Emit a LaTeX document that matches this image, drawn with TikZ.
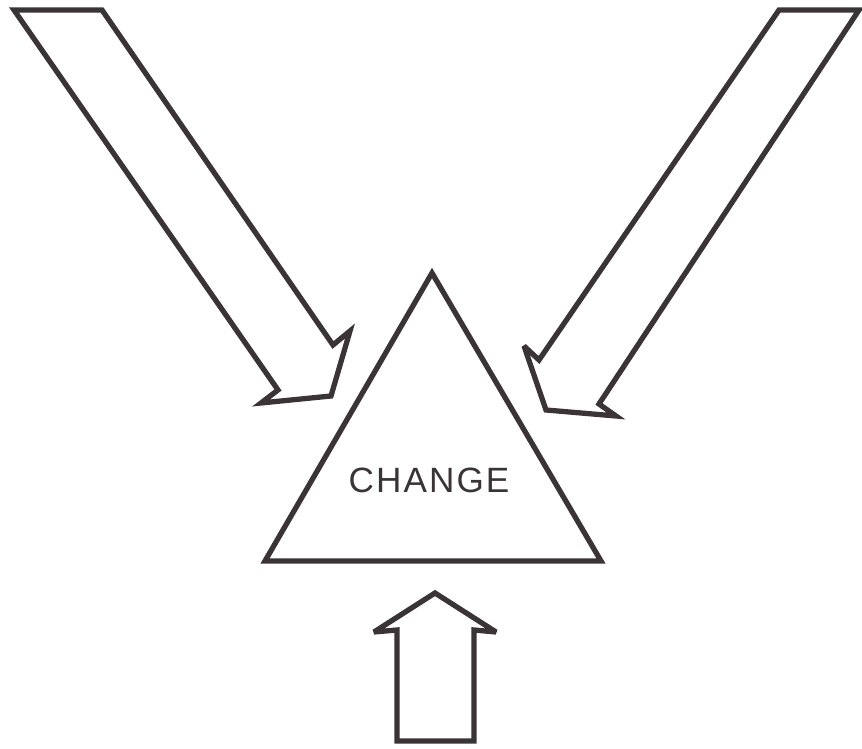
\documentclass[tikz,border=0pt]{standalone}
\usepackage{fontspec}
\usepackage{tikz}
\newfontfamily\changefont[LetterSpace=6]{Liberation Sans}
\definecolor{InkGray}{HTML}{3B3437}
\tikzset{
  outline/.style={draw=InkGray, line width=3pt, line join=miter, miter limit=4, fill=white},
  label/.style={text=InkGray, font=\changefont\fontsize{20pt}{24pt}\selectfont, inner sep=0pt}
}

\begin{document}
\begin{tikzpicture}[x=0.02cm, y=-0.02cm]
\useasboundingbox (0,0) rectangle (862,749);
\fill[white] (0,0) rectangle (862,749);
% arrow from the upper left
\draw[outline] (14,10) -- (102,10) -- (333,345) -- (350,331) -- (331,396)
  -- (261,403) -- (278,390) -- cycle;
% arrow from the upper right
\draw[outline] (779,10) -- (859,10) -- (599,404) -- (616,416) -- (546,410)
  -- (524,346) -- (539,360) -- cycle;
% arrow from below
\draw[outline] (397,741) -- (397,630) -- (374,632) -- (435,593) -- (496,632)
  -- (474,630) -- (474,741) -- cycle;
% the triangle
\draw[outline] (432,273) -- (601,561) -- (265,561) -- cycle;
\node[label] (change) at (429,480) {CHANGE};
\end{tikzpicture}
\end{document}
